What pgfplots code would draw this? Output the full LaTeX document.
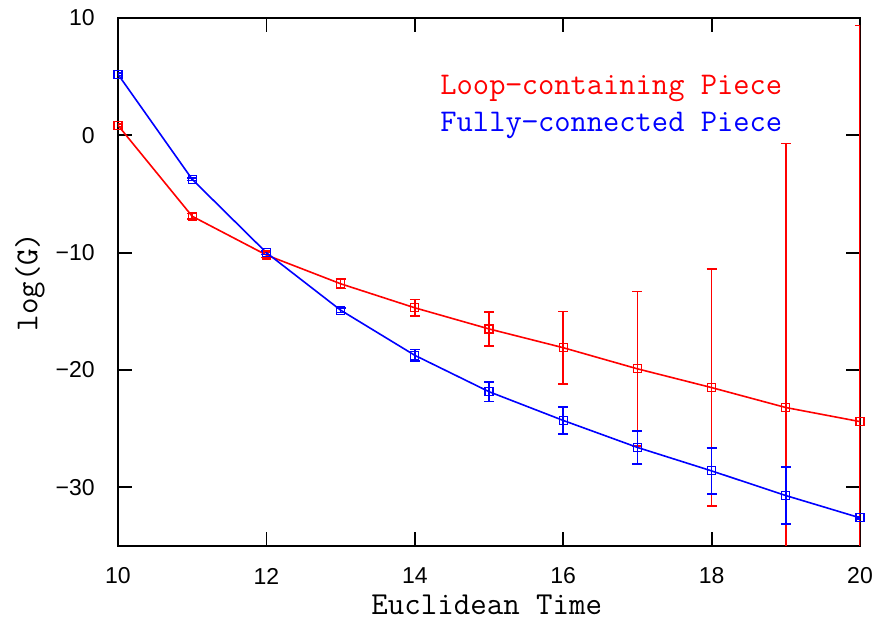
\documentclass[border=0pt]{standalone}
\usepackage{fontspec}
\setmainfont{Liberation Sans}
\newfontfamily\monofont{Latin Modern Mono}
\usepackage{pgfplots}
\pgfplotsset{compat=1.18}

\begin{document}
\begin{tikzpicture}
\begin{axis}[
    scale only axis,
    width=371pt, height=264pt,
    xmin=10, xmax=20,
    ymin=-35, ymax=10,
    xtick={10,12,...,20},
    ytick={-30,-20,...,10},
    yticklabels={−30,−20,−10,0,10},
    tick align=inside,
    major tick length=7pt,
    tick style={black, line width=0.9pt},
    axis line style={line width=1pt},
    /pgf/number format/assume math mode=true,
    tick label style={font=\fontsize{11.5}{13}\selectfont, inner sep=0pt},
    xticklabel style={anchor=center, yshift=-15pt},
    yticklabel style={anchor=east, xshift=-11.5pt},
    xlabel={Euclidean Time},
    ylabel={log(G)},
    label style={font=\monofont\fontsize{16}{18}\selectfont, inner sep=0pt},
    xlabel style={at={(axis description cs:0.497,-0.112)}, anchor=center},
    ylabel style={at={(axis description cs:-0.1186,0.5)}, anchor=center},
    clip=true,
]
\addplot+[red, line width=0.8pt, mark=square, mark size=2pt,
    mark options={solid, line width=0.6pt},
    error bars/.cd, y dir=both, y explicit,
    error bar style={line width=0.8pt}, error mark options={rotate=90, mark size=2.5pt, line width=0.8pt}]
coordinates {
    (10, 0.85) +- (0, 0.1)
    (11, -6.9) +- (0, 0.25)
    (12, -10.2) +- (0, 0.2)
    (13, -12.65) +- (0, 0.4)
    (14, -14.7) +- (0, 0.7)
    (15, -16.5) +- (0, 1.45)
    (16, -18.1) +- (0, 3.1)
    (17, -19.9) +- (0, 6.6)
    (18, -21.5) +- (0, 10.1)
    (19, -23.2) +- (0, 22.5)
    (20, -24.4) +- (0, 33.75)
};
\addplot+[blue, line width=0.8pt, mark=square, mark size=2pt,
    mark options={solid, line width=0.6pt},
    error bars/.cd, y dir=both, y explicit,
    error bar style={line width=0.8pt}, error mark options={rotate=90, mark size=2.5pt, line width=0.8pt}]
coordinates {
    (10, 5.2) +- (0, 0.1)
    (11, -3.75) +- (0, 0.1)
    (12, -10.0) +- (0, 0.15)
    (13, -14.9) +- (0, 0.2)
    (14, -18.75) +- (0, 0.5)
    (15, -21.85) +- (0, 0.85)
    (16, -24.3) +- (0, 1.15)
    (17, -26.6) +- (0, 1.4)
    (18, -28.6) +- (0, 1.95)
    (19, -30.7) +- (0, 2.45)
    (20, -32.6) +- (0, 0.1)
};
\node[anchor=west, red, font=\monofont\fontsize{15.8}{17}\selectfont, inner sep=0pt] at (axis cs:14.34, 4.0) {Loop−containing Piece};
\node[anchor=west, blue, font=\monofont\fontsize{15.8}{17}\selectfont, inner sep=0pt] at (axis cs:14.34, 0.85) {Fully−connected Piece};
\end{axis}
\path ([shift={(-59pt,-38.5pt)}]current axis.south west) rectangle ([shift={(9pt,9pt)}]current axis.north east);
\end{tikzpicture}
\end{document}
